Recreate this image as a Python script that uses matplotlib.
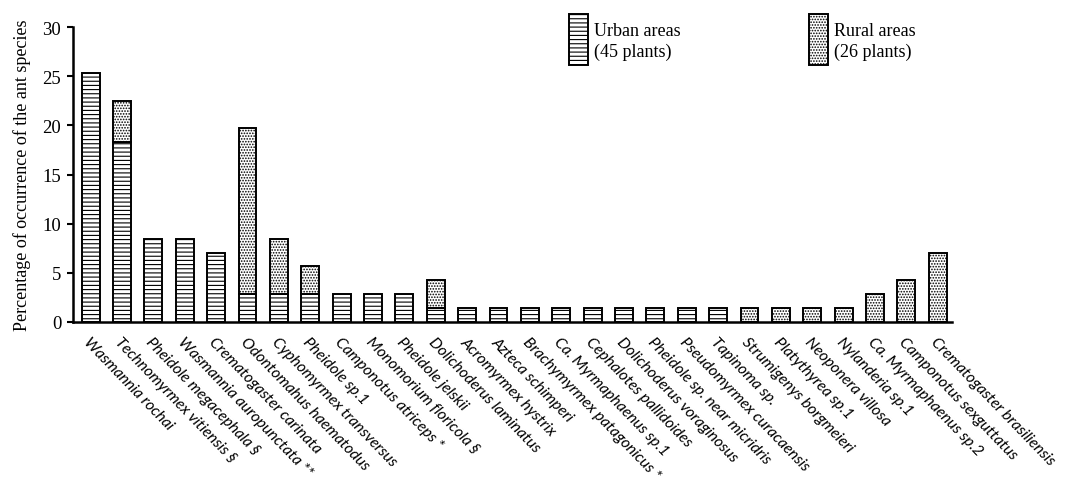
import numpy as np
from matplotlib import pyplot as plt
from matplotlib.patches import Rectangle

plt.rcParams['hatch.linewidth'] = 0.8

species = [
    'Wasmannia rochai', 'Technomyrmex vitiensis §', 'Pheidole megacephala §',
    'Wasmannia auropunctata **', 'Crematogaster carinata', 'Odontomahus haematodus',
    'Cyphomyrmex transversus', 'Pheidole sp.1', 'Camponotus atriceps *',
    'Monomorium floricola §', 'Pheidole jelskii', 'Dolichoderus laminatus',
    'Acromyrmex hystrix', 'Azteca schimperi', 'Brachymyrmex patagonicus *',
    'Ca. Myrmaphaenus sp.1', 'Cephalotes pallidoides', 'Dolichoderus voraginosus',
    'Pheidole sp. near micridris', 'Pseudomyrmex curacaensis', 'Tapinoma sp.',
    'Strumigenys borgmeieri', 'Platythyrea sp.1', 'Neoponera villosa',
    'Nylanderia sp.1', 'Ca. Myrmaphaenus sp.2', 'Camponotus sexguttatus',
    'Crematogaster brasiliensis',
]
urban = [25.35, 18.31, 8.45, 8.45, 7.04, 2.82, 2.82, 2.82, 2.82, 2.82, 2.82, 1.41,
         1.41, 1.41, 1.41, 1.41, 1.41, 1.41, 1.41, 1.41, 1.41,
         0, 0, 0, 0, 0, 0, 0]
rural = [0, 4.23, 0, 0, 0, 16.90, 5.63, 2.82, 0, 0, 0, 2.82,
         0, 0, 0, 0, 0, 0, 0, 0, 0,
         1.41, 1.41, 1.41, 1.41, 2.82, 4.23, 7.04]

serif = 'Liberation Serif'
urban_style = dict(facecolor='white', edgecolor='black', hatch='----', linewidth=1.4)
rural_style = dict(facecolor='white', edgecolor='black', hatch='......', linewidth=1.4)

fig = plt.figure(figsize=(10.68, 4.85), dpi=100)
ax = fig.add_axes([0.0684, 0.3346, 0.8226, 0.607])

x = np.arange(len(species))
ax.bar(x, urban, width=0.57, **urban_style)
ax.bar(x, rural, width=0.57, bottom=urban, **rural_style)
# hide zero-height bar outlines
for p in ax.patches:
    if p.get_height() == 0:
        p.set_visible(False)

ax.set_xlim(-0.56, 27.44)
ax.set_ylim(0, 30)
ax.set_yticks(range(0, 31, 5))
for lab in ax.get_yticklabels():
    lab.set_fontfamily(serif)
    lab.set_fontsize(13.5)
ax.set_xticks(x)
ax.set_xticklabels(species, rotation=-46, ha='left', va='top',
                   rotation_mode='anchor', fontsize=11.3, style='italic',
                   family='Lato')
ax.tick_params(axis='x', length=0, pad=9)
ax.tick_params(axis='y', length=4.5, width=1.5, direction='out', pad=4)

ax.spines['top'].set_visible(False)
ax.spines['right'].set_visible(False)
ax.spines['left'].set_linewidth(1.8)
ax.spines['bottom'].set_linewidth(1.8)

ax.set_ylabel('Percentage of occurrence of the ant species', family=serif,
              fontsize=13, labelpad=8)

# legend boxes
W, H = 1068, 485
for (x0, lbl1, lbl2, style) in [(569, 'Urban areas', '(45 plants)', urban_style),
                                (809, 'Rural areas', '(26 plants)', rural_style)]:
    fig.add_artist(Rectangle((x0 / W, 1 - 66 / H), 19 / W, 51 / H,
                             transform=fig.transFigure, **style))
    fig.text((x0 + 25) / W, 1 - 32 / H, lbl1, family=serif, fontsize=13, va='center')
    fig.text((x0 + 25) / W, 1 - 52 / H, lbl2, family=serif, fontsize=13, va='center')

fig.savefig('out.png', dpi=100)
